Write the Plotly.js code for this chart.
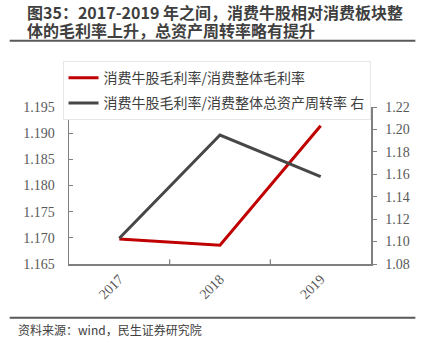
<!DOCTYPE html>
<html><head><meta charset="utf-8">
<script src="https://cdn.plot.ly/plotly-3.0.1.min.js"></script>
<style>html,body{margin:0;padding:0;background:#fff}#c{width:425px;height:353px}</style>
</head><body><div id="c"></div>
<script>
const years = ['2017', '2018', '2019'];
const grossMarginRatio = [1.1698, 1.1686, 1.1914];
const turnoverRatio = [1.103, 1.195, 1.158];
const seriesNames = ['消费牛股毛利率/消费整体毛利率', '消费牛股毛利率/消费整体总资产周转率 右'];
const leftTicks = [1.165, 1.170, 1.175, 1.180, 1.185, 1.190, 1.195];
const rightTicks = [1.08, 1.10, 1.12, 1.14, 1.16, 1.18, 1.20, 1.22];
const titleLines = ['图35：2017-2019 年之间，消费牛股相对消费板块整', '体的毛利率上升，总资产周转率略有提升'];
const sourceText = '资料来源：wind，民生证券研究院';

const serif = '"Liberation Serif", "Times New Roman", serif';
const cjk = '"Noto Sans CJK SC", "Noto Sans", sans-serif';

// pixel -> paper helpers (plot area: x 68.5..371.5, y 107..264.5)
const px = v => (v - 68.5) / 303;
const py = v => (264.5 - v) / 157.5;

const traces = [
  {x: years, y: grossMarginRatio, name: seriesNames[0], type: 'scatter', mode: 'lines',
   line: {color: '#C00000', width: 3}, yaxis: 'y', legendgroup: 'a'},
  {x: years, y: turnoverRatio, name: seriesNames[1], type: 'scatter', mode: 'lines',
   line: {color: '#474747', width: 3}, yaxis: 'y2', legendgroup: 'b'}
];

const layout = {
  width: 425, height: 353,
  margin: {l: 68.5, r: 53.5, t: 107, b: 88.5, pad: 0},
  paper_bgcolor: '#fff', plot_bgcolor: '#fff',
  showlegend: true,
  legend: {x: px(62), y: py(61), xanchor: 'left', yanchor: 'top', traceorder: 'grouped', tracegroupgap: 4,
    bgcolor: '#fff', bordercolor: '#e6e6e6', borderwidth: 1,
    font: {family: cjk, size: 14, color: '#404040'}},
  xaxis: {type: 'category', range: [-0.5, 2.5], showline: true, linecolor: '#7f7f7f', linewidth: 1.5,
    ticks: '', tickangle: -45, showgrid: false, zeroline: false,
    tickfont: {family: serif, size: 14, color: '#595959'}},
  yaxis: {range: [1.165, 1.195], tickvals: leftTicks, tickformat: '.3f', showline: true,
    linecolor: '#7f7f7f', linewidth: 1.5, ticks: 'inside', ticklen: 4, tickcolor: '#7f7f7f',
    showgrid: false, zeroline: false, ticklabelstandoff: 10,
    tickfont: {family: serif, size: 14, color: '#595959'}},
  yaxis2: {range: [1.08, 1.22], tickvals: rightTicks, tickformat: '.2f', overlaying: 'y', side: 'right',
    showline: true, linecolor: '#7f7f7f', linewidth: 1.5, ticks: 'outside', ticklen: 4, tickcolor: '#7f7f7f',
    showgrid: false, zeroline: false, ticklabelstandoff: 6,
    tickfont: {family: serif, size: 14, color: '#595959'}},
  shapes: [
    {type: 'line', xref: 'paper', yref: 'paper', x0: 1/3, x1: 1/3, y0: 0, y1: 0.03, line: {color: '#7f7f7f', width: 1.2}},
    {type: 'line', xref: 'paper', yref: 'paper', x0: 2/3, x1: 2/3, y0: 0, y1: 0.03, line: {color: '#7f7f7f', width: 1.2}},
    {type: 'line', xref: 'paper', yref: 'paper', x0: px(9), x1: px(416), y0: py(40.5), y1: py(40.5), line: {color: '#595959', width: 2}},
    {type: 'line', xref: 'paper', yref: 'paper', x0: px(9), x1: px(416), y0: py(318.5), y1: py(318.5), line: {color: '#595959', width: 2}}
  ],
  annotations: [
    {text: titleLines[0], xref: 'paper', yref: 'paper', x: px(25), y: py(11.5), xanchor: 'left', yanchor: 'middle',
     align: 'left', showarrow: false, borderpad: 0, font: {family: cjk, size: 16, color: '#3f3f3f', weight: 'bold'}},
    {text: titleLines[1], xref: 'paper', yref: 'paper', x: px(25), y: py(29.5), xanchor: 'left', yanchor: 'middle',
     align: 'left', showarrow: false, borderpad: 0, font: {family: cjk, size: 16, color: '#3f3f3f', weight: 'bold'}},
    {text: sourceText, xref: 'paper', yref: 'paper', x: px(16), y: py(330), xanchor: 'left', yanchor: 'middle',
     align: 'left', showarrow: false, borderpad: 0, font: {family: cjk, size: 12, color: '#404040'}}
  ]
};
Plotly.newPlot('c', traces, layout, {displayModeBar: false, staticPlot: true});
</script></body></html>
